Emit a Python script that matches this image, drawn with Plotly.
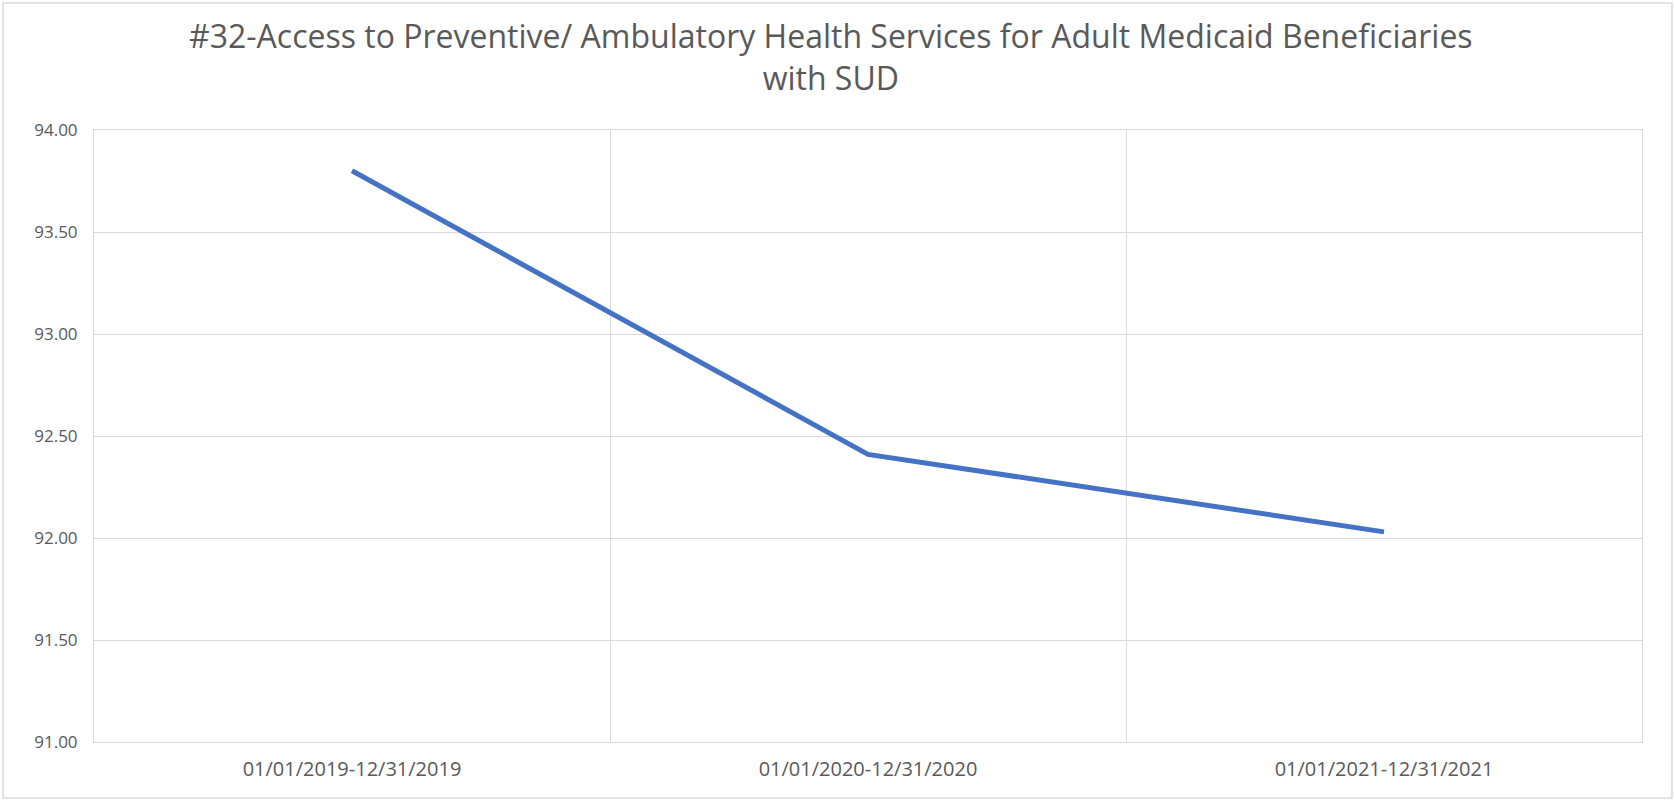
import plotly.graph_objects as go

periods = ["01/01/2019-12/31/2019", "01/01/2020-12/31/2020", "01/01/2021-12/31/2021"]
values = [93.80, 92.41, 92.03]
y_ticks = [91.0, 91.5, 92.0, 92.5, 93.0, 93.5, 94.0]
y_tick_text = ["91.00", "91.50", "92.00", "92.50", "93.00", "93.50", "94.00"]
title_text = "#32-Access to Preventive/ Ambulatory Health Services for Adult Medicaid Beneficiaries<br>with SUD"

W, H = 1674, 802
L, R, T, B = 94, 32, 130, 60
pw, ph = W - L - R, H - T - B

fig = go.Figure()
fig.add_trace(go.Scatter(
    x=periods, y=values, mode="lines",
    line=dict(color="#4472C4", width=5),
    showlegend=False, hoverinfo="x+y",
))

grid = "#d9d9d9"
fig.update_layout(
    width=W, height=H,
    margin=dict(l=L, r=R, t=T, b=B),
    paper_bgcolor="white", plot_bgcolor="white",
    font=dict(family="Open Sans, sans-serif", color="#595959"),
    xaxis=dict(
        type="category", tickson="boundaries", showgrid=True, gridcolor=grid, gridwidth=1,
        showline=True, linecolor=grid, linewidth=1, mirror=True,
        ticks="", ticklabelstandoff=9,
        tickfont=dict(size=20, color="#595959"),
        range=[-0.5, 2.5], zeroline=False,
    ),
    yaxis=dict(
        range=[91, 94], tickvals=y_ticks, ticktext=y_tick_text,
        showgrid=True, gridcolor=grid, gridwidth=1,
        showline=True, linecolor=grid, linewidth=1, mirror=True,
        ticks="outside", ticklen=12, tickcolor="rgba(0,0,0,0)",
        tickfont=dict(size=17, color="#595959"), zeroline=False,
    ),
    annotations=[dict(
        text=title_text, xref="paper", yref="paper",
        x=(831 - L) / pw, xanchor="center",
        y=1 + (T - 57) / ph, yanchor="middle",
        showarrow=False, align="center",
        font=dict(size=32, color="#595959", family="Open Sans, sans-serif"),
    )],
    shapes=[dict(
        type="rect", xref="paper", yref="paper",
        x0=(3 - L) / pw, x1=(W - 2 - L) / pw,
        y0=-(B - 4) / ph, y1=1 + (T - 3) / ph,
        line=dict(color="#d9d9d9", width=1.5), fillcolor="rgba(0,0,0,0)", layer="below",
    )],
)

fig.write_html("out.html")
